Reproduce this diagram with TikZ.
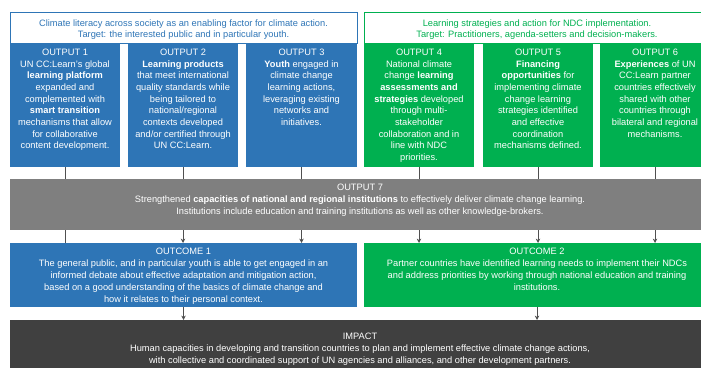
\documentclass[tikz,border=0pt]{standalone}
\usepackage{fontspec}
\setmainfont{Liberation Sans}
\usetikzlibrary{positioning,arrows.meta}

\definecolor{bleu}{HTML}{2E75B6}
\definecolor{vert}{HTML}{00B050}
\definecolor{gris}{HTML}{7F7F7F}
\definecolor{sombre}{HTML}{404040}
\definecolor{trait}{HTML}{505050}

\begin{document}
\begin{tikzpicture}[x=0.25mm,y=-0.25mm, % une unité = un pixel, y vers le bas
  boite/.style={anchor=north west,inner sep=0pt,outer sep=0pt},
  txt/.style={align=center,inner sep=0pt,text=white,font=\fontsize{6.6}{8.3}\selectfont},
  lien/.style={draw=trait,line width=0.7pt},
  fleche/.style={lien,-{Stealth[length=1.1mm,width=1.1mm]}}]

\useasboundingbox (0,0) rectangle (701,368);
\clip (0,0) rectangle (701,368);

% Les six produits
\node[boite,fill=bleu,minimum width=27.5mm,minimum height=31mm] (O1) at (10,43) {};
\node[boite,fill=bleu,minimum width=27.5mm,minimum height=31mm] (O2) at (128,43) {};
\node[boite,fill=bleu,minimum width=27.75mm,minimum height=31mm] (O3) at (246,43) {};
\node[boite,fill=vert,minimum width=27.5mm,minimum height=31mm] (O4) at (364,43) {};
\node[boite,fill=vert,minimum width=27.5mm,minimum height=31mm] (O5) at (483,43) {};
\node[boite,fill=vert,minimum width=27.5mm,minimum height=31mm] (O6) at (600,43) {};

% Les deux bandeaux
\node[boite,draw=bleu,line width=0.6pt,minimum width=86.75mm,minimum height=7.75mm] (CB) at (10,12) {};
\node[boite,draw=vert,line width=0.6pt,minimum width=86.5mm,minimum height=7.75mm] (CV) at (364,12) {};
\node[txt,text=bleu,font=\fontsize{6.6}{7.9}\selectfont,below=1.9mm of CB.north] (CBt) {Climate literacy across society as an enabling factor for climate action.\\Target: the interested public and in particular youth.};
\node[txt,text=vert,font=\fontsize{6.6}{7.9}\selectfont,below=1.9mm of CV.north] (CVt) {Learning strategies and action for NDC implementation.\\Target: Practitioners, agenda-setters and decision-makers.};

\node[txt,below=1.4mm of O1.north] (O1t) {OUTPUT 1\\UN CC:Learn's global\\\textbf{learning platform}\\expanded and\\complemented with\\\textbf{smart transition}\\mechanisms that allow\\for collaborative\\content development.};
\node[txt,below=1.4mm of O2.north] (O2t) {OUTPUT 2\\\textbf{Learning products}\\that meet international\\quality standards while\\being tailored to\\national/regional\\contexts developed\\and/or certified through\\UN CC:Learn.};
\node[txt,below=1.4mm of O3.north] (O3t) {OUTPUT 3\\\textbf{Youth} engaged in\\climate change\\learning actions,\\leveraging existing\\networks and\\initiatives.};
\node[txt,below=1.4mm of O4.north] (O4t) {OUTPUT 4\\National climate\\change \textbf{learning}\\\textbf{assessments and}\\\textbf{strategies} developed\\through multi-\\stakeholder\\collaboration and in\\line with NDC\\priorities.};
\node[txt,below=1.4mm of O5.north] (O5t) {OUTPUT 5\\\textbf{Financing}\\\textbf{opportunities} for\\implementing climate\\change learning\\strategies identified\\and effective\\coordination\\mechanisms defined.};
\node[txt,below=1.4mm of O6.north] (O6t) {OUTPUT 6\\\textbf{Experiences} of UN\\CC:Learn partner\\countries effectively\\shared with other\\countries through\\bilateral and regional\\mechanisms.};

% Produit 7, effets et impact
\node[boite,fill=gris,minimum width=175mm,minimum height=12.75mm] (O7) at (10,179) {};
\node[txt,font=\fontsize{6.6}{8.5}\selectfont,below=1.1mm of O7.north] (O7t) {OUTPUT 7\\Strengthened \textbf{capacities of national and regional institutions} to effectively deliver climate change learning.\\Institutions include education and training institutions as well as other knowledge-brokers.};

\node[boite,fill=bleu,minimum width=86.75mm,minimum height=16mm] (OC1) at (10,243) {};
\node[boite,fill=vert,minimum width=86.5mm,minimum height=16mm] (OC2) at (364,243) {};
\node[txt,font=\fontsize{6.6}{8.6}\selectfont,below=1.1mm of OC1.north] (OC1t) {OUTCOME 1\\The general public, and in particular youth is able to get engaged in an\\informed debate about effective adaptation and mitigation action,\\based on a good understanding of the basics of climate change and\\how it relates to their personal context.};
\node[txt,font=\fontsize{6.6}{8.6}\selectfont,below=1.1mm of OC2.north] (OC2t) {OUTCOME 2\\Partner countries have identified learning needs to implement their NDCs\\and address priorities by working through national education and training\\institutions.};

\node[boite,fill=sombre,minimum width=175mm,minimum height=14.5mm] (IM) at (10,320) {};
\node[txt,font=\fontsize{6.6}{8.8}\selectfont,below=3.1mm of IM.north] (IMt) {IMPACT\\Human capacities in developing and transition countries to plan and implement effective climate change actions,\\with collective and coordinated support of UN agencies and alliances, and other development partners.};

% Liaisons
\draw[lien] (O1) -- (O1 |- O7.north) (O2) -- (O2 |- O7.north) (O3) -- (O3 |- O7.north);
\draw[lien] (O4) -- (O4 |- O7.north) (O5) -- (O5 |- O7.north) (O6) -- (O6 |- O7.north);
\draw[lien] (O7.south -| O1) -- (OC1.north -| O1);
\draw[fleche] (O7.south -| O2) -- (OC1.north -| O2);
\draw[fleche] (O7.south -| O3) -- (OC1.north -| O3);
\draw[fleche] (O7.south -| O4) -- (OC2.north -| O4);
\draw[fleche] (O7.south -| O5) -- (OC2.north -| O5);
\draw[fleche] (O7.south -| O6) -- (OC2.north -| O6);
\draw[fleche] (OC1) -- (OC1 |- IM.north);
\draw[fleche] (OC2) -- (OC2 |- IM.north);
\end{tikzpicture}
\end{document}
